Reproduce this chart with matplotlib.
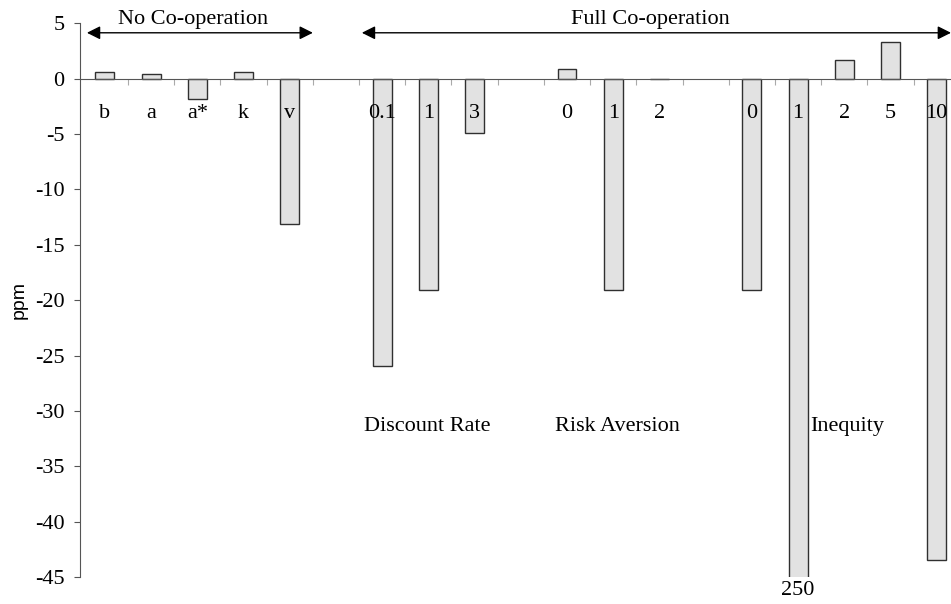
import matplotlib
matplotlib.use("Agg")
import matplotlib.pyplot as plt
import numpy as np

# categories (empty string = gap between groups)
labels = ["b", "a", "a*", "k", "v", "",
          "0.1", "1", "3", "",
          "0", "1", "2", "",
          "0", "1", "2", "5", "10"]
values = [0.65, 0.4, -1.85, 0.6, -13.1, np.nan,
          -25.9, -19.1, -4.9, np.nan,
          0.85, -19.1, 0.0, np.nan,
          -19.1, -250, 1.65, 3.3, -43.5]
yticks = [5, 0, -5, -10, -15, -20, -25, -30, -35, -40, -45]

serif = "Liberation Serif"
fs = 16
x = np.arange(len(labels))

fig = plt.figure(figsize=(9.51, 6.04), dpi=100)
ax = fig.add_axes([0.0841, 0.0447, 0.9159, 0.9166])

vals = np.array(values, dtype=float)
mask = ~np.isnan(vals)
ax.bar(x[mask], vals[mask], width=0.41, color="#e2e2e2",
       edgecolor="#303030", linewidth=1.0, zorder=1)

ax.set_xlim(-0.54, 18.31)
ax.set_ylim(-45, 5)

# spines
ax.spines["top"].set_visible(False)
ax.spines["right"].set_visible(False)
ax.spines["bottom"].set_position(("data", 0))
ax.spines["bottom"].set_color("#555555")
ax.spines["bottom"].set_zorder(3)
ax.spines["left"].set_color("#555555")

ax.set_yticks(yticks)
ax.set_yticklabels([str(t) for t in yticks], fontfamily=serif, fontsize=fs)
ax.tick_params(axis="y", direction="out", length=4, color="#555555", pad=7)

ax.set_xticks(np.arange(0.5, len(labels) - 1, 1.0))
ax.set_xticklabels([])
ax.tick_params(axis="x", direction="out", length=4, color="#aaaaaa")

for xi, lab in zip(x, labels):
    if lab:
        ax.text(xi, -3.1, lab, ha="center", va="center",
                fontfamily=serif, fontsize=fs, zorder=4)

# group names
ax.text(6.97, -31.4, "Discount Rate", ha="center", va="center",
        fontfamily=serif, fontsize=fs)
ax.text(11.1, -31.4, "Risk Aversion", ha="center", va="center",
        fontfamily=serif, fontsize=fs)
ax.text(16.06, -31.4, "Inequity", ha="center", va="center",
        fontfamily=serif, fontsize=fs)

# clipped bar value
ax.text(15, -46.2, "250", ha="center", va="center",
        fontfamily=serif, fontsize=fs, clip_on=False)

# co-operation arrows
arrow = dict(arrowstyle="<|-|>", color="black", lw=1.0,
             mutation_scale=20, shrinkA=0, shrinkB=0)
ax.annotate("", xy=(-0.39, 4.15), xytext=(4.5, 4.15),
            arrowprops=arrow, annotation_clip=False)
ax.annotate("", xy=(5.56, 4.15), xytext=(18.31, 4.15),
            arrowprops=arrow, annotation_clip=False)
ax.text(1.9, 5.35, "No Co-operation", ha="center", va="center",
        fontfamily=serif, fontsize=fs, clip_on=False)
ax.text(11.8, 5.35, "Full Co-operation", ha="center", va="center",
        fontfamily=serif, fontsize=fs, clip_on=False)

fig.text(0.02, 0.503, "ppm", rotation=90, ha="center", va="center",
         fontfamily="Liberation Sans", fontsize=14)

fig.savefig("out.png", dpi=100)
